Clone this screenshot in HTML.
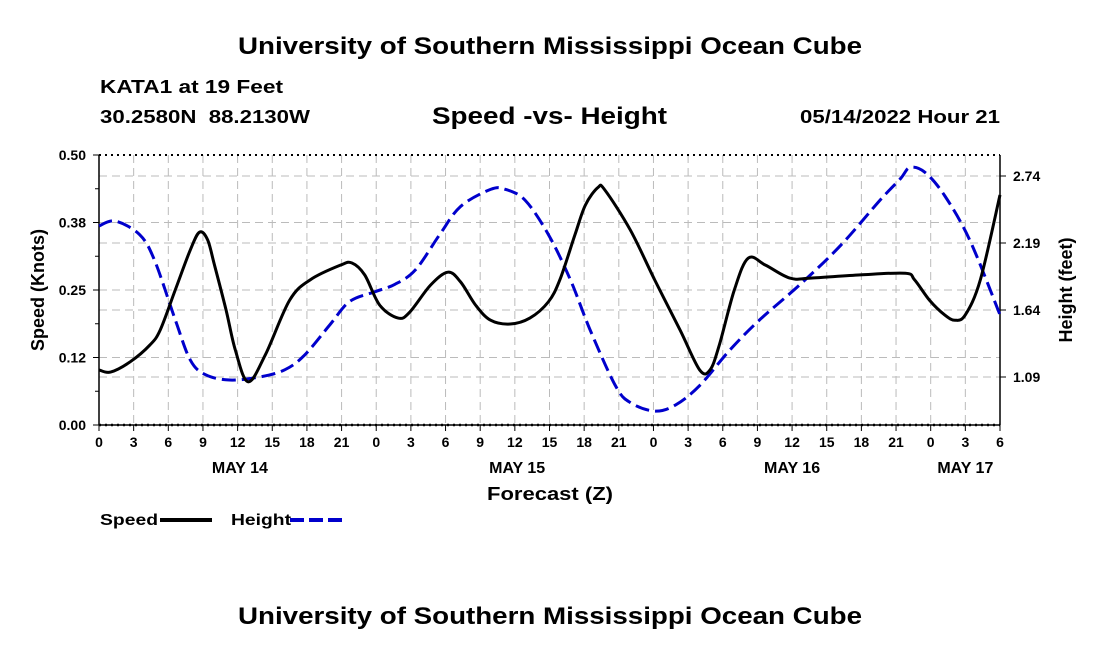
<!DOCTYPE html>
<html><head><meta charset="utf-8"><style>
body{margin:0;background:#fff;}
svg text{font-family:"Liberation Sans",sans-serif;font-weight:bold;}
</style></head><body>
<svg id="c" width="1100" height="650" viewBox="0 0 1100 650">
<text x="238" y="54" font-size="24" textLength="624" lengthAdjust="spacingAndGlyphs">University of Southern Mississippi Ocean Cube</text>
<text x="100" y="93" font-size="18" textLength="183" lengthAdjust="spacingAndGlyphs">KATA1 at 19 Feet</text>
<text x="100" y="123" font-size="18" textLength="210" lengthAdjust="spacingAndGlyphs" xml:space="preserve">30.2580N  88.2130W</text>
<text x="432" y="124" font-size="24" textLength="235" lengthAdjust="spacingAndGlyphs">Speed -vs- Height</text>
<text x="800" y="123" font-size="18" textLength="200" lengthAdjust="spacingAndGlyphs">05/14/2022 Hour 21</text>
<text x="238" y="624" font-size="24" textLength="624" lengthAdjust="spacingAndGlyphs">University of Southern Mississippi Ocean Cube</text>
<g id="grid"></g>
<g id="axes"></g>
<g id="series"></g>
<text x="487" y="500" font-size="18" textLength="126" lengthAdjust="spacingAndGlyphs">Forecast (Z)</text>
<text transform="translate(44,290) rotate(-90)" font-size="18" text-anchor="middle">Speed (Knots)</text>
<text transform="translate(1072,290) rotate(-90)" font-size="18" text-anchor="middle">Height (feet)</text>
<g>
<text x="100" y="525" font-size="16" textLength="58" lengthAdjust="spacingAndGlyphs">Speed</text>
<line x1="160" y1="520" x2="212" y2="520" stroke="#000" stroke-width="4"/>
<text x="231" y="525" font-size="16" textLength="60" lengthAdjust="spacingAndGlyphs">Height</text>
<line x1="290" y1="520" x2="342" y2="520" stroke="#0000cc" stroke-width="4" stroke-dasharray="14,5"/>
</g>
</svg>
<script>
const speedHours=[0,1,2.7,4.4,5.3,6.6,7.9,8.7,9.4,10,11,11.8,12.9,14.4,16.5,18.3,20.9,21.9,23,24.3,25.9,26.9,28.7,30.2,31.3,32.6,33.9,35.6,37.3,38.9,39.9,41.2,42.1,43.2,43.8,46,48.1,50.3,52,52.9,53.7,55,56.2,57.7,59.8,61.6,65.9,69.8,70.6,71.9,73.2,74.1,75,76.3,78];
const speedValues=[0.102,0.098,0.117,0.148,0.176,0.25,0.324,0.357,0.343,0.296,0.213,0.139,0.08,0.13,0.231,0.269,0.296,0.30,0.278,0.222,0.198,0.209,0.259,0.283,0.265,0.222,0.194,0.187,0.198,0.228,0.269,0.352,0.407,0.44,0.435,0.361,0.269,0.176,0.102,0.102,0.148,0.25,0.309,0.296,0.272,0.272,0.278,0.281,0.269,0.231,0.204,0.194,0.204,0.269,0.426];
const heightHours=[0,1.4,3.5,4.8,6.6,7.9,9.2,11.3,13.9,16.1,17.8,20,21.7,23.9,25.6,27.4,29.5,31.3,33.9,35.2,36.9,38.9,40.8,42.5,44.7,46,48.1,49.9,52,54.6,57.2,60.7,64.2,67.6,69.4,70.2,71.5,73.2,75.4,78];
const heightValues=[2.33,2.37,2.26,2.05,1.56,1.23,1.11,1.065,1.09,1.15,1.27,1.52,1.71,1.79,1.85,1.97,2.26,2.49,2.63,2.63,2.54,2.26,1.89,1.48,1.02,0.88,0.81,0.86,1.02,1.31,1.56,1.85,2.17,2.54,2.72,2.81,2.77,2.58,2.21,1.60];
const speedTicks=[0,0.125,0.25,0.375,0.5];
const speedTickLabels=["0.00","0.12","0.25","0.38","0.50"];
const speedMinorTicks=[0.0625,0.1875,0.3125,0.4375];
const heightTicks=[1.09,1.64,2.19,2.74];
const hourTicks=[0,3,6,9,12,15,18,21,0,3,6,9,12,15,18,21,0,3,6,9,12,15,18,21,0,3,6];
const dayLabels=["MAY 14","MAY 15","MAY 16","MAY 17"];
const dayLabelHours=[12.2,36.2,60,75];

const X0=99,X1=1000,Y0=425,Y1=155,TH=78;
const xs=h=>X0+h/TH*(X1-X0);
const ys=v=>Y0-(v-0)/0.5*(Y0-Y1);
const yh=f=>377-(f-1.09)/0.55*67;
const NS="http://www.w3.org/2000/svg";
function mk(tag,attrs,parent,txt){const e=document.createElementNS(NS,tag);for(const k in attrs)e.setAttribute(k,attrs[k]);if(txt!==undefined)e.textContent=txt;parent.appendChild(e);return e;}
const gridG=document.getElementById('grid'),axesG=document.getElementById('axes'),seriesG=document.getElementById('series');
hourTicks.forEach((t,i)=>{const x=xs(i*3);
 if(i>0&&i<hourTicks.length-1){const l=mk('line',{x1:x,x2:x,y1:Y1,y2:Y0,stroke:'#bbb','stroke-dasharray':'8,5'},gridG);
 
 }
 const tk=mk('line',{x1:x,x2:x,y1:Y0,y2:Y0+6,stroke:'#000'},axesG);
 
 
 const tl=mk('text',{x:x,y:Y0+22,'font-size':14,'text-anchor':'middle'},axesG,String(t));
 
 
});
dayLabels.forEach((d,i)=>{const t=mk('text',{x:xs(dayLabelHours[i]),y:Y0+48,'font-size':16,'text-anchor':'middle'},axesG,d);
 
 });
speedTicks.forEach((v,i)=>{const y=ys(v);
 if(i>0&&i<speedTicks.length-1){const l=mk('line',{x1:X0,x2:X1,y1:y,y2:y,stroke:'#bbb','stroke-dasharray':'8,5'},gridG);
 
 }
 const tk=mk('line',{x1:X0-6,x2:X0,y1:y,y2:y,stroke:'#000'},axesG);
 
 
 const tl=mk('text',{x:X0-13,y:y+5,'font-size':14,'text-anchor':'end'},axesG,speedTickLabels[i]);
 
 
});
speedMinorTicks.forEach(v=>{const y=ys(v);
 const tk=mk('line',{x1:X0-4,x2:X0,y1:y,y2:y,stroke:'#000'},axesG);
 
 
});
heightTicks.forEach(v=>{const y=yh(v);
 const l=mk('line',{x1:X0,x2:X1,y1:y,y2:y,stroke:'#bbb','stroke-dasharray':'8,5'},gridG);
 
 
 const tk=mk('line',{x1:X1,x2:X1+6,y1:y,y2:y,stroke:'#000'},axesG);
 
 
 const tl=mk('text',{x:X1+13,y:y+5,'font-size':14},axesG,v.toFixed(2));
 
 
});
const topBorder=mk('line',{x1:X0,x2:X1,y1:Y1,y2:Y1,stroke:'#000','stroke-width':2,'stroke-dasharray':'2,4'},axesG);


[[X0,Y1,X0,Y0],[X0,Y0,X1,Y0],[X1,Y1,X1,Y0]].forEach(a=>{const l=mk('line',{x1:a[0],y1:a[1],x2:a[2],y2:a[3],stroke:'#000','stroke-width':1.5},axesG);
 
 });
const bottomDots=mk('line',{x1:X0,x2:X1,y1:Y0,y2:Y0,stroke:'#000','stroke-width':2.5,'stroke-dasharray':'2,4'},axesG);


function smooth(pts){let d='M'+pts[0][0]+','+pts[0][1];
 for(let i=0;i<pts.length-1;i++){const p0=pts[Math.max(0,i-1)],p1=pts[i],p2=pts[i+1],p3=pts[Math.min(pts.length-1,i+2)];
  const c1=[p1[0]+(p2[0]-p0[0])/6,p1[1]+(p2[1]-p0[1])/6],c2=[p2[0]-(p3[0]-p1[0])/6,p2[1]-(p3[1]-p1[1])/6];
  d+=' C'+c1[0]+','+c1[1]+' '+c2[0]+','+c2[1]+' '+p2[0]+','+p2[1];}
 return d;}
const hp=mk('path',{d:smooth(heightHours.map((h,i)=>[xs(h),yh(heightValues[i])])),fill:'none',stroke:'#0000cc','stroke-width':3,'stroke-dasharray':'14,6'},seriesG);


const sp=mk('path',{d:smooth(speedHours.map((h,i)=>[xs(h),ys(speedValues[i])])),fill:'none',stroke:'#000','stroke-width':3},seriesG);


</script>
</body></html>
